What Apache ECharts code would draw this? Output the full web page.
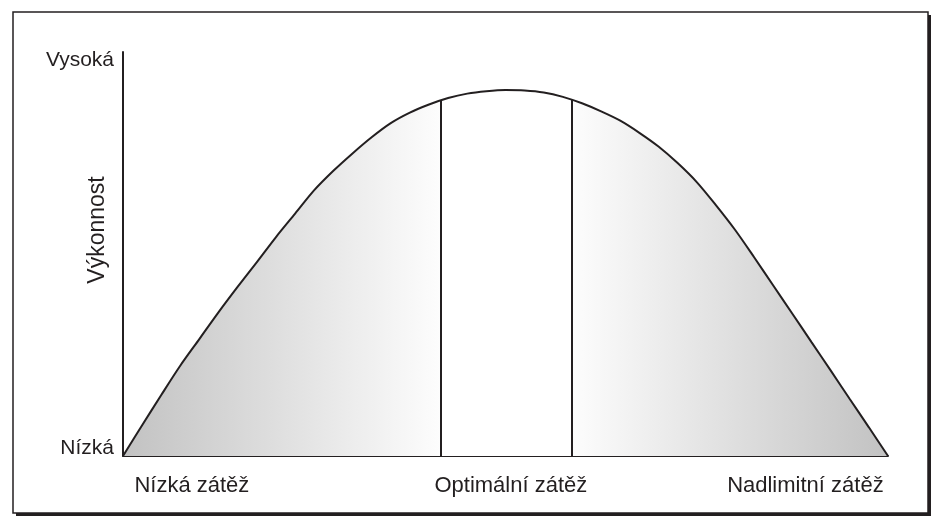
<!DOCTYPE html>
<html>
<head>
<meta charset="utf-8">
<script src="https://cdn.jsdelivr.net/npm/echarts@6/dist/echarts.min.js"></script>
<style>
    html, body { margin: 0; padding: 0; background: #fff; }
    #chart { width: 933px; height: 517px; }
</style>
</head>
<body>
<div id="chart"></div>
<script>
// křivka výkonnosti (zátěž 0-100, výkonnost 0-100)
const curveX = [0, 2.5, 5, 7.5, 10, 12.5, 15, 17.5, 20, 22.5, 25, 27.5, 30, 32.5, 35, 37.5, 40, 42.5, 45, 47.5, 50,
                52.5, 55, 57.5, 60, 62.5, 65, 67.5, 70, 72.5, 75, 77.5, 80, 82.5, 85, 87.5, 90, 92.5, 95, 97.5, 100];
const curveY = [0, 7.6, 15.1, 22.4, 29.0, 35.6, 41.9, 48.0, 54.2, 60.0, 65.8, 70.6, 74.9, 78.9, 82.4, 85.0, 87.0, 88.6, 89.7, 90.3, 90.6,
                90.5, 90.0, 88.9, 87.3, 85.3, 83.0, 80.0, 76.6, 72.5, 67.8, 62.1, 56.0, 49.2, 42.2, 35.2, 28.2, 21.2, 14.1, 7.1, 0];

// svislé hranice optimální zóny
const dividerX = [41.6, 58.6];
const dividerTop = [88.1, 88.2];

// popisky os
const xLabelPos = [9.0, 50.7, 89.2];
const xLabels = ['Nízká zátěž', 'Optimální zátěž', 'Nadlimitní zátěž'];
const yLabelPos = [0, 100];
const yLabels = ['Nízká', 'Vysoká'];
const yName = 'Výkonnost';

const ink = '#231f20';
const font = '"Liberation Sans", Arial, sans-serif';

window.onload = function() {
    const chart = echarts.init(document.getElementById('chart'));

    const points = curveX.map((x, i) => [x, curveY[i]]);
    const dividers = dividerX.map((x, i) => [{ coord: [x, 0] }, { coord: [x, dividerTop[i]] }]);

    const option = {
        backgroundColor: '#fff',
        animation: false,
        graphic: [
            // rámeček se stínem
            { type: 'rect', z: -10, shape: { x: 16, y: 15, width: 915, height: 501 }, style: { fill: ink } },
            { type: 'rect', z: -9, shape: { x: 13, y: 12, width: 915, height: 501 }, style: { fill: '#fff', stroke: ink, lineWidth: 1.5 } }
        ],
        grid: { left: 123, right: 45, top: 52, bottom: 61 },
        xAxis: {
            type: 'value',
            min: 0,
            max: 100,
            axisLine: { lineStyle: { color: ink, width: 2 } },
            axisTick: { show: false },
            splitLine: { show: false },
            axisLabel: {
                customValues: xLabelPos,
                margin: 19,
                color: ink,
                fontSize: 22,
                fontFamily: font,
                formatter: v => xLabels[xLabelPos.indexOf(v)] || ''
            }
        },
        yAxis: {
            type: 'value',
            min: 0,
            max: 100,
            name: yName,
            nameLocation: 'middle',
            nameGap: 14,
            nameMoveOverlap: false,
            nameTextStyle: { color: ink, fontSize: 23, fontFamily: font, padding: [0, 0, 0, 48] },
            axisLine: { lineStyle: { color: ink, width: 2 } },
            axisTick: { show: false },
            splitLine: { show: false },
            axisLabel: {
                customValues: yLabelPos,
                margin: 9,
                color: ink,
                fontSize: 21,
                fontFamily: font,
                formatter: v => v === 0 ? '{lo|' + yLabels[0] + '}' : '{hi|' + yLabels[1] + '}',
                rich: {
                    lo: { fontSize: 21, fontFamily: font, color: ink, padding: [0, 0, 16, 0] },
                    hi: { fontSize: 21, fontFamily: font, color: ink, padding: [16, 0, 0, 0] }
                }
            }
        },
        series: [
            {
                type: 'line',
                data: points,
                smooth: 0.3,
                symbol: 'none',
                lineStyle: { color: ink, width: 2 },
                areaStyle: {
                    opacity: 1,
                    color: new echarts.graphic.LinearGradient(0, 0, 1, 0, [
                        { offset: 0, color: '#c2c2c2' },
                        { offset: 0.415, color: '#fdfdfd' },
                        { offset: 0.416, color: '#ffffff' },
                        { offset: 0.585, color: '#ffffff' },
                        { offset: 0.586, color: '#fdfdfd' },
                        { offset: 1, color: '#c2c2c2' }
                    ])
                },
                markLine: {
                    silent: true,
                    symbol: 'none',
                    label: { show: false },
                    lineStyle: { color: ink, width: 2, type: 'solid' },
                    data: dividers
                }
            }
        ]
    };
    chart.setOption(option);
};
</script>
</body>
</html>
